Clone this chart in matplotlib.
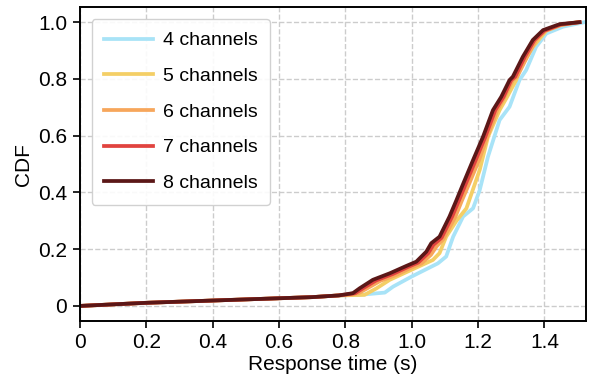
import numpy as np
import matplotlib.pyplot as plt
from matplotlib.ticker import FuncFormatter

# CDF curves (response time in s, cumulative fraction)
# all five share the same low tail up to ~0.78 s
base_x = [0.0, 0.2, 0.4, 0.6, 0.7, 0.78]
base_y = [0.0, 0.011, 0.019, 0.027, 0.031, 0.037]

x4 = base_x + [0.843, 0.919, 0.944, 0.999, 1.079, 1.104, 1.125, 1.155, 1.185, 1.205,
               1.23, 1.265, 1.295, 1.325, 1.345, 1.375, 1.406, 1.456, 1.521]
y4 = base_y + [0.039, 0.047, 0.068, 0.103, 0.150, 0.174, 0.244, 0.315, 0.344, 0.408,
               0.526, 0.655, 0.702, 0.796, 0.831, 0.913, 0.960, 0.984, 1.0]

x5 = base_x + [0.858, 0.894, 0.934, 0.999, 1.064, 1.084, 1.104, 1.135, 1.165, 1.205,
               1.23, 1.265, 1.285, 1.315, 1.325, 1.365, 1.406, 1.45, 1.50]
y5 = base_y + [0.039, 0.062, 0.092, 0.127, 0.162, 0.186, 0.244, 0.300, 0.344, 0.479,
               0.596, 0.690, 0.731, 0.796, 0.831, 0.913, 0.970, 0.990, 1.0]

x6 = base_x + [0.82, 0.84, 0.866, 0.905, 0.955, 0.995, 1.03, 1.058, 1.075, 1.095, 1.132, 1.152,
               1.173, 1.203, 1.228, 1.258, 1.28, 1.305, 1.318, 1.348, 1.375, 1.403, 1.45, 1.506]
y6 = base_y + [0.040, 0.045, 0.062, 0.088, 0.110, 0.133, 0.150, 0.180, 0.210, 0.235, 0.315, 0.373,
               0.430, 0.514, 0.596, 0.690, 0.737, 0.796, 0.808, 0.878, 0.937, 0.970, 0.990, 1.0]

x7 = base_x + [0.80, 0.83, 0.853, 0.893, 0.944, 0.99, 1.02, 1.05, 1.066, 1.09, 1.122, 1.143,
               1.163, 1.193, 1.222, 1.252, 1.277, 1.30, 1.312, 1.341, 1.37, 1.40, 1.45, 1.506]
y7 = base_y + [0.040, 0.045, 0.062, 0.090, 0.113, 0.138, 0.153, 0.186, 0.216, 0.240, 0.315, 0.373,
               0.430, 0.514, 0.596, 0.690, 0.737, 0.796, 0.808, 0.878, 0.937, 0.970, 0.992, 1.0]

x8 = base_x + [0.823, 0.843, 0.883, 0.934, 0.984, 1.014, 1.044, 1.059, 1.084, 1.114, 1.135, 1.155,
               1.185, 1.215, 1.245, 1.27, 1.295, 1.305, 1.335, 1.365, 1.396, 1.446, 1.506]
y8 = base_y + [0.045, 0.062, 0.092, 0.115, 0.141, 0.156, 0.191, 0.221, 0.244, 0.315, 0.373, 0.430,
               0.514, 0.596, 0.690, 0.737, 0.796, 0.808, 0.878, 0.937, 0.972, 0.993, 1.0]

series = [
    ("4 channels", x4, y4, "#a8e3f7"),
    ("5 channels", x5, y5, "#f4cf66"),
    ("6 channels", x6, y6, "#f7a65b"),
    ("7 channels", x7, y7, "#e1433f"),
    ("8 channels", x8, y8, "#5b1717"),
]

plt.rcParams['font.family'] = ['Liberation Sans', 'DejaVu Sans']

fig, ax = plt.subplots(figsize=(5.96, 3.9), dpi=100)
fig.subplots_adjust(left=0.134, right=0.983, top=0.981, bottom=0.177)

for label, xs, ys, color in series:
    ax.plot(xs, ys, color=color, lw=2.7, label=label, solid_joinstyle='round')

ax.set_xlim(0, 1.525)
ax.set_ylim(-0.053, 1.052)
ax.set_xticks(np.arange(0, 1.41, 0.2))
ax.set_yticks(np.arange(0, 1.01, 0.2))
fmt = FuncFormatter(lambda v, p: "0" if abs(v) < 1e-9 else "%.1f" % v)
ax.xaxis.set_major_formatter(fmt)
ax.yaxis.set_major_formatter(fmt)
ax.tick_params(labelsize=15, direction='out', length=5, width=1.2, pad=4)

ax.grid(True, linestyle='--', color='#cccccc', lw=1)
for s in ax.spines.values():
    s.set_linewidth(1.4)

ax.set_xlabel("Response time (s)", fontsize=15, labelpad=2)
ax.set_ylabel("CDF", fontsize=15, labelpad=4)

ax.legend(loc='upper left', fontsize=14, handlelength=2.5, handletextpad=0.5,
          labelspacing=0.93, borderpad=0.65, borderaxespad=0.6,
          framealpha=0.9, edgecolor='#cccccc')

fig.savefig("out.png", dpi=100)
